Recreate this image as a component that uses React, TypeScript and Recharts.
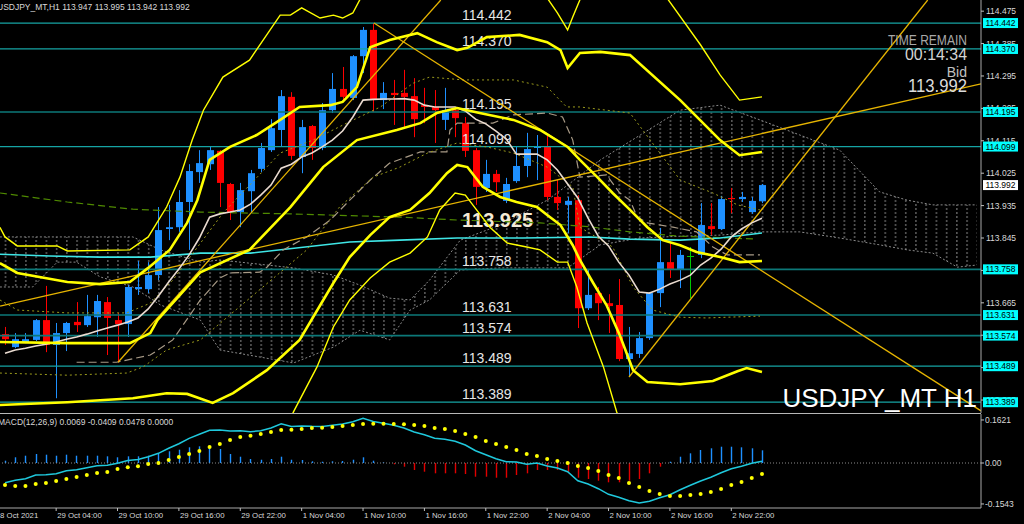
import React from 'react';
import { ComposedChart, Bar, Line, Area, XAxis, YAxis, ReferenceLine } from 'recharts';

// ---------- price candles (H1, bar 0 = 28 Oct 23:00) ----------
const opens = [113.578,113.542,113.556,113.562,113.617,113.548,113.581,113.612,113.603,113.625,113.667,113.617,113.606,113.703,113.703,113.742,113.870,113.875,113.945,114.028,114.050,114.087,113.995,113.917,113.975,114.037,114.089,114.145,114.237,114.070,114.156,114.095,114.200,114.259,114.234,114.350,114.423,114.228,114.248,114.248,114.239,114.214,114.209,114.173,114.200,114.164,114.089,113.984,114.023,113.948,114.003,114.045,114.095,114.098,113.959,113.937,113.950,113.650,113.692,113.664,113.659,113.509,113.523,113.567,113.692,113.778,113.759,113.795,113.798,113.878,113.870,113.956,113.953,113.917,113.947];
const highs = [113.598,113.581,113.581,113.620,113.712,113.609,113.612,113.667,113.687,113.687,113.681,113.637,113.714,113.781,113.778,113.931,113.937,113.978,114.050,114.089,114.098,114.089,113.998,113.998,114.034,114.109,114.175,114.256,114.250,114.173,114.159,114.220,114.303,114.320,114.353,114.431,114.442,114.278,114.284,114.312,114.289,114.262,114.256,114.262,114.206,114.181,114.095,114.062,114.034,114.012,114.098,114.137,114.131,114.131,114.006,113.959,113.964,113.756,113.709,113.689,113.731,113.598,113.584,113.695,113.873,113.834,113.812,113.820,113.942,113.942,113.962,113.984,113.973,113.959,113.995];
const lows = [113.548,113.539,113.553,113.559,113.528,113.400,113.531,113.584,113.598,113.570,113.520,113.500,113.570,113.687,113.692,113.728,113.839,113.862,113.812,113.998,114.034,113.931,113.895,113.875,113.914,114.028,114.084,114.098,114.062,114.025,114.062,114.089,114.192,114.228,114.228,114.303,114.195,114.203,114.159,114.153,114.125,114.164,114.109,114.145,114.125,114.070,113.937,113.973,113.973,113.942,113.998,114.014,114.006,113.950,113.923,113.859,113.595,113.645,113.617,113.581,113.503,113.459,113.512,113.562,113.653,113.734,113.706,113.678,113.789,113.853,113.867,113.914,113.945,113.912,113.942];
const closes = [113.564,113.564,113.564,113.617,113.548,113.581,113.609,113.603,113.628,113.670,113.623,113.606,113.709,113.709,113.742,113.867,113.875,113.945,114.031,114.053,114.089,113.998,113.917,113.978,114.025,114.095,114.150,114.239,114.073,114.153,114.095,114.200,114.259,114.237,114.350,114.423,114.231,114.248,114.242,114.237,114.175,114.209,114.200,114.200,114.178,114.087,113.987,114.023,114.000,113.995,114.045,114.092,114.100,113.959,113.942,113.948,113.650,113.687,113.664,113.656,113.509,113.525,113.567,113.692,113.778,113.759,113.798,113.795,113.881,113.870,113.953,113.953,113.959,113.948,113.992];

// short moving average (white)
const smaWhite = [113.525,113.534,113.539,113.545,113.550,113.556,113.564,113.570,113.578,113.587,113.595,113.603,113.612,113.623,113.648,113.684,113.723,113.759,113.798,113.845,113.903,113.912,113.917,113.923,113.939,113.964,113.992,114.039,114.050,114.070,114.081,114.098,114.117,114.142,114.181,114.228,114.230,114.231,114.231,114.232,114.228,114.214,114.209,114.209,114.209,114.198,114.175,114.162,114.142,114.120,114.078,114.078,114.078,114.062,114.034,113.995,113.956,113.900,113.850,113.823,113.778,113.742,113.695,113.692,113.703,113.717,113.728,113.742,113.770,113.789,113.814,113.848,113.870,113.887,113.900];

// band / indicator vertices: [barIndex, price]
const bandUpperOuter: [number, number][] = [[-0.5,113.875],[0,113.848],[1.2,113.823],[5.1,113.823],[6.1,113.809],[12.2,113.812],[14,113.848],[15.8,113.931],[17.1,114.014],[18.3,114.117],[19.4,114.2],[21.3,114.292],[23.9,114.339],[26.9,114.464],[27.9,114.464],[29,114.484],[30.8,114.456],[32.1,114.464],[33,114.456],[34,114.47],[35.2,114.534],[43.5,114.617],[52.8,114.52],[54,114.47],[55,114.423],[55.5,114.459],[56.4,114.52],[60,114.589],[64.5,114.52],[68,114.381],[69.9,114.298],[71.8,114.228],[74,114.237]];
const bandUpper: [number, number][] = [[-0.5,113.775],[1.2,113.748],[6.1,113.723],[9.3,113.717],[12.2,113.723],[14,113.762],[16.1,113.812],[17.8,113.887],[18.8,113.95],[20,114.062],[22,114.098],[24.6,114.131],[26.9,114.173],[28.8,114.209],[31.8,114.214],[33,114.223],[34.4,114.264],[35.7,114.375],[37.6,114.395],[40.3,114.414],[42.2,114.389],[44.2,114.367],[45.2,114.373],[47.1,114.403],[50.3,114.409],[53,114.389],[54.3,114.367],[55,114.317],[56.2,114.359],[58.2,114.362],[61.1,114.353],[66,114.228],[69.9,114.117],[71.8,114.075],[74,114.084]];
const bandMid: [number, number][] = [[-0.5,113.556],[6.1,113.553],[12.2,113.553],[14.2,113.581],[14.9,113.617],[19.1,113.75],[23.9,113.812],[27.9,113.931],[31.1,114.042],[34.4,114.117],[38.3,114.145],[40.6,114.164],[42.2,114.192],[44.2,114.206],[46.4,114.192],[49.7,114.173],[52.3,114.145],[55,114.098],[56.2,114.062],[57.9,114.014],[59.4,113.97],[61.1,113.923],[62.8,113.875],[64.3,113.839],[66,113.825],[67.6,113.806],[69.9,113.792],[71.8,113.778],[74,113.781]];
const bandLower: [number, number][] = [[-0.5,113.381],[6.1,113.389],[12.5,113.4],[15.8,113.414],[17.8,113.412],[20.3,113.387],[22.3,113.414],[25.6,113.478],[28.8,113.562],[32.1,113.72],[33.7,113.792],[35.7,113.853],[37.6,113.903],[39.6,113.923],[41.5,113.97],[43.2,114.025],[44.2,114.048],[45.2,114.042],[46.7,113.987],[48.4,113.959],[50,113.945],[52,113.931],[53,113.909],[54.3,113.881],[55.5,113.825],[56.2,113.784],[57.5,113.72],[58.8,113.659],[60.1,113.575],[61.4,113.478],[62.8,113.445],[66,113.439],[69.2,113.448],[71.6,113.475],[72.5,113.484],[74,113.473]];
const bandLowerOuter: [number, number][] = [[26.9,113.284],[28.2,113.362],[30.5,113.487],[32.1,113.598],[33.7,113.673],[35.7,113.734],[37.6,113.778],[39.6,113.803],[41.3,113.848],[42.5,113.923],[44,113.97],[45,113.964],[46.1,113.923],[47.4,113.875],[49.1,113.831],[51,113.82],[52.3,113.812],[54,113.778],[55,113.778],[55.9,113.709],[56.9,113.609],[58.5,113.487],[59.8,113.362],[61.1,113.256]];
const dotUpper: [number, number][] = [[-0.5,113.673],[1.2,113.645],[6.1,113.637],[11.9,113.637],[14.2,113.664],[16.4,113.728],[21.3,113.914],[26.9,114.081],[30.1,114.117],[33.4,114.164],[36.7,114.209],[39.9,114.275],[41.5,114.292],[44.8,114.284],[49.7,114.284],[53,114.264],[54.9,114.209],[56.2,114.209],[61.1,114.192],[66,114.006],[69.2,113.97],[71.6,113.937],[73.8,113.923]];
const dotLower: [number, number][] = [[-0.5,113.47],[6.1,113.464],[11.9,113.47],[13.5,113.487],[15.8,113.534],[19.1,113.562],[29.5,113.812],[32.7,113.931],[36,114.014],[38.6,114.042],[41.3,114.081],[44.2,114.109],[47.1,114.098],[49.7,114.081],[53,114.042],[55.5,113.987],[56.2,113.875],[59.4,113.82],[61.4,113.709],[63.3,113.645],[66,113.625],[68.6,113.623],[70.6,113.625],[73.8,113.628]];
const smaCyan: [number, number][] = [[-0.5,113.8],[4.4,113.795],[9.3,113.792],[14.2,113.792],[19.1,113.803],[24,113.803],[33.7,113.834],[38.6,113.839],[44.2,113.845],[50.6,113.845],[57.2,113.848],[61.1,113.842],[66,113.839],[69.9,113.845],[74,113.859]];
const smaGreen: [number, number][] = [[-0.5,113.97],[6.1,113.945],[12.5,113.925],[19.1,113.917],[27.9,113.912],[38.6,113.903],[44.2,113.895],[52.3,113.887],[57.2,113.876],[61.1,113.862],[66,113.85],[73.5,113.842]];
const kijun: [number, number][] = [[7,113.5],[10.9,113.5],[14.2,113.52],[16.4,113.562],[19.1,113.673],[21,113.734],[22,113.748],[24.9,113.75],[25.6,113.764],[27.2,113.812],[29.5,113.848],[31.8,113.895],[33.7,113.95],[35.7,114.006],[37.6,114.053],[40.6,114.084],[43.2,114.084],[43.5,114.145],[44.2,114.164],[47.7,114.164],[49.7,114.187],[53,114.192],[54.5,114.181],[55.5,114.117],[56.2,114.014],[58.8,114.02],[60.1,113.97],[61.1,113.95],[61.8,113.903],[62.8,113.887],[65.3,113.875],[67.6,113.862],[69.2,113.82],[70.6,113.798],[73.8,113.798]];

// ichimoku cloud: [barIndex, spanTop, spanBottom]
const cloud: [number, number, number][] = [[-0.5,113.848,113.709],[2.7,113.848,113.709],[5.1,113.848,113.778],[7,113.848,113.778],[9.3,113.848,113.737],[12.5,113.848,113.709],[15.2,113.812,113.659],[19.1,113.778,113.617],[21,113.784,113.534],[28.2,113.762,113.498],[32.1,113.742,113.542],[34.7,113.714,113.589],[37.6,113.678,113.562],[39.6,113.673,113.645],[41.5,113.728,113.673],[44.5,113.839,113.756],[48.4,113.881,113.762],[53,113.95,113.762],[55,113.992,113.762],[58.2,114.062,113.826],[62.1,114.131,113.845],[66,114.2,113.85],[69.9,114.214,113.853],[73.8,114.173,113.862],[77.7,114.131,113.862],[81.6,114.089,113.845],[85.5,113.973,113.826],[88.2,113.95,113.812],[90.7,113.937,113.803],[93.1,113.937,113.764],[95,113.937,113.77]];

// trend lines: [barIndex, price] pairs
const trendLines: [number, number][][] = [
  [[36.07,114.442],[95.41,113.365]],
  [[61,113.459],[90.2,114.506]],
  [[11.05,113.5],[42.6,114.506]],
  [[-0.48,113.656],[95.41,114.273]],
];

// horizontal levels
const levels = [114.442, 114.370, 114.195, 114.099, 113.758, 113.631, 113.574, 113.489, 113.389];
const darkLevels = [114.195, 113.758, 113.631, 113.574];
const priceTicks = [114.475, 114.385, 114.295, 114.205, 114.115, 114.025, 113.935, 113.845, 113.755, 113.665, 113.575, 113.485, 113.395];
const bidPrice = 113.992;
const markedLevel = 113.925;

// ---------- MACD(12,26,9) ----------
const macdHist = [0.0087,0.0215,0.0275,0.0339,0.0313,0.0275,0.0313,0.0275,0.0275,0.0275,0.0252,0.0215,0.0252,0.0252,0.0275,0.0365,0.0441,0.0501,0.0591,0.0629,0.0629,0.0527,0.0339,0.0237,0.0151,0.0124,0.0151,0.0237,0.0124,0.0113,0.0064,0.0049,0.0064,0.0075,0.0124,0.0215,0.0087,0.0026,-0.0049,-0.0139,-0.0264,-0.0328,-0.0388,-0.0388,-0.0388,-0.0414,-0.0516,-0.0516,-0.0554,-0.0554,-0.0452,-0.0388,-0.0264,-0.0264,-0.0264,-0.0328,-0.0554,-0.0603,-0.0667,-0.0727,-0.0727,-0.0667,-0.0603,-0.0388,-0.0139,0.0049,0.0237,0.0365,0.0490,0.0554,0.0614,0.0614,0.0591,0.0554,0.0478];
const macdSignal = [-0.0829,-0.0866,-0.0866,-0.0791,-0.0753,-0.0678,-0.0603,-0.0527,-0.0452,-0.0377,-0.0339,-0.0226,-0.0160,-0.0120,-0.0038,0.0000,0.0113,0.0226,0.0339,0.0452,0.0603,0.0716,0.0866,0.0979,0.1030,0.1092,0.1168,0.1243,0.1255,0.1281,0.1318,0.1330,0.1356,0.1394,0.1431,0.1469,0.1475,0.1475,0.1469,0.1460,0.1431,0.1394,0.1318,0.1281,0.1205,0.1092,0.0979,0.0829,0.0716,0.0603,0.0490,0.0339,0.0264,0.0151,0.0075,0.0000,-0.0113,-0.0188,-0.0301,-0.0452,-0.0565,-0.0753,-0.0904,-0.1055,-0.1168,-0.1243,-0.1243,-0.1205,-0.1168,-0.1092,-0.0979,-0.0829,-0.0716,-0.0565,-0.0414];
const macdMain = [-0.0742,-0.0651,-0.0591,-0.0452,-0.0440,-0.0403,-0.0290,-0.0252,-0.0177,-0.0102,-0.0087,-0.0011,0.0092,0.0132,0.0237,0.0365,0.0554,0.0727,0.0930,0.1081,0.1232,0.1243,0.1205,0.1216,0.1181,0.1216,0.1319,0.1480,0.1379,0.1394,0.1382,0.1379,0.1420,0.1469,0.1555,0.1684,0.1562,0.1501,0.1420,0.1321,0.1167,0.1066,0.0930,0.0893,0.0817,0.0678,0.0463,0.0313,0.0162,0.0049,0.0038,-0.0049,0.0000,-0.0113,-0.0189,-0.0328,-0.0667,-0.0791,-0.0968,-0.1179,-0.1292,-0.1420,-0.1507,-0.1443,-0.1307,-0.1194,-0.1006,-0.0840,-0.0678,-0.0538,-0.0365,-0.0215,-0.0125,-0.0011,0.0069];
const macdTicks = [0.1621, 0, -0.1543];

// time axis
const timeTickBars = [-1, 5, 11, 17, 23, 29, 35, 41, 47, 53, 59, 65, 71];
const timeTickLabels = ['28 Oct 2021', '29 Oct 04:00', '29 Oct 10:00', '29 Oct 16:00', '29 Oct 22:00', '1 Nov 04:00', '1 Nov 10:00', '1 Nov 16:00', '1 Nov 22:00', '2 Nov 04:00', '2 Nov 10:00', '2 Nov 16:00', '2 Nov 22:00'];

// ---------- derived tables ----------
const candles = opens.map((o, i) => ({ i, o, h: highs[i], l: lows[i], c: closes[i] }));
const macdRows = macdHist.map((h, i) => ({ i, hist: h, sig: macdSignal[i], main: macdMain[i] }));
const toPts = (arr: [number, number][]) => arr.map(([i, v]) => ({ i, v }));
const cloudRows = cloud.map(([i, t, b]) => ({ i, t, b }));

const X_DOMAIN: [number, number] = [-0.489, 95.41];
const FONT = 'Liberation Sans, Arial, sans-serif';

const Candle = (props: any) => {
  const { x, y, width, height, payload } = props;
  if (!payload) return null;
  const { o, h, l, c } = payload;
  const top = Math.min(y, y + height);
  const hh = Math.abs(height);
  const per = h - l > 0 ? hh / (h - l) : 0;
  const yO = top + (h - o) * per;
  const yC = top + (h - c) * per;
  const color = c > o ? '#1e90ff' : c < o ? '#ff0000' : '#00c800';
  const cx = Math.round(x + width / 2) + 0.5;
  const bTop = Math.min(yO, yC);
  const bH = Math.max(1, Math.abs(yC - yO));
  return (
    <g>
      <line x1={cx} x2={cx} y1={top} y2={top + hh} stroke={color} strokeWidth={1} />
      <rect x={cx - 3.5} y={bTop} width={7} height={bH} fill={color} />
    </g>
  );
};

const HistBar = (props: any) => {
  const { x, y, width, height, payload } = props;
  if (!payload) return null;
  const cx = Math.round(x + width / 2) + 0.5;
  const color = payload.hist >= 0 ? '#1e90ff' : '#e00000';
  return <line x1={cx} x2={cx} y1={y} y2={y + height} stroke={color} strokeWidth={1.4} />;
};

const PriceTick = (props: any) => {
  const { x, y, payload } = props;
  const v: number = payload.value;
  const label = v.toFixed(3);
  if (levels.includes(v)) {
    return (
      <g>
        <rect x={x + 2} y={y - 5} width={35} height={10} fill="#00ffff" />
        <text x={x + 19.5} y={y + 3} textAnchor="middle" fontSize={8.5} fontFamily={FONT} fill="#000">{label}</text>
      </g>
    );
  }
  if (v === bidPrice) {
    return (
      <g>
        <rect x={x + 2} y={y - 5} width={35} height={10} fill="#ffffff" />
        <text x={x + 19.5} y={y + 3} textAnchor="middle" fontSize={8.5} fontFamily={FONT} fill="#000">{label}</text>
      </g>
    );
  }
  return (
    <g>
      <line x1={x} x2={x + 3} y1={y} y2={y} stroke="#c0c0c0" />
      <text x={x + 5} y={y + 3} fontSize={8.5} fontFamily={FONT} fill="#d8d8d8">{label}</text>
    </g>
  );
};

const MacdTick = (props: any) => {
  const { x, y, payload } = props;
  const v: number = payload.value;
  const label = v === 0 ? '0.00' : v.toFixed(4);
  return (
    <g>
      <line x1={x} x2={x + 3} y1={y} y2={y} stroke="#c0c0c0" />
      <text x={x + 4} y={y + 3} fontSize={8.5} fontFamily={FONT} fill="#d8d8d8">{label}</text>
    </g>
  );
};

const TimeTick = (props: any) => {
  const { x, y, payload, index } = props;
  const k = timeTickBars.indexOf(payload.value);
  const label = timeTickLabels[k >= 0 ? k : index] || '';
  return (
    <g>
      <line x1={x} x2={x} y1={y} y2={y + 3} stroke="#c0c0c0" />
      <text x={x + 1} y={y + 10} fontSize={7.8} fontFamily={FONT} fill="#d8d8d8">{label}</text>
    </g>
  );
};

const yellow = '#ffff00';
const trendColor = '#e6b400';

export default function App() {
  return (
    <div style={{ position: 'absolute', left: 0, top: 0, width: 1024, height: 524, background: '#000', overflow: 'hidden', fontFamily: FONT }}>
      <div style={{ position: 'absolute', left: 0, top: 0 }}>
        <ComposedChart width={1024} height={413} data={candles} margin={{ top: 0, right: 0, bottom: 0, left: 0 }}>
          <defs>
            <pattern id="hatch" patternUnits="userSpaceOnUse" x={0} y={0} width={10.23} height={4}>
              <line x1={5.5} x2={5.5} y1={0} y2={2} stroke="#8c8c8c" strokeWidth={1} />
            </pattern>
          </defs>
          <XAxis dataKey="i" type="number" domain={X_DOMAIN} allowDataOverflow hide />
          <YAxis
            orientation="right"
            width={43}
            type="number"
            domain={[113.359, 114.506]}
            allowDataOverflow
            ticks={[...priceTicks, bidPrice, ...levels]}
            interval={0}
            tick={<PriceTick />}
            tickLine={false}
            tickSize={0}
            tickMargin={0}
            axisLine={{ stroke: '#a8a8a8' }}
          />
          <Area data={cloudRows} dataKey={(d: any) => [d.b, d.t]} type="linear" stroke="#8a8a8a" strokeDasharray="2 2" strokeWidth={1} fill="url(#hatch)" fillOpacity={1} isAnimationActive={false} dot={false} activeDot={false} />
          {levels.map((lv) => (
            <ReferenceLine
              key={lv}
              y={lv}
              stroke={darkLevels.includes(lv) ? '#0c7878' : '#16a4a4'}
              strokeWidth={darkLevels.includes(lv) ? 1.6 : 1.2}
              label={(p: any) => (
                <text x={462} y={p.viewBox.y - 3} fontSize={14} fontFamily={FONT} fill="#e6e6e6">{lv.toFixed(3)}</text>
              )}
            />
          ))}
          <ReferenceLine
            y={markedLevel}
            stroke="none"
            strokeOpacity={0}
            label={(p: any) => (
              <text x={462} y={p.viewBox.y + 18} fontSize={20} fontWeight="bold" fontFamily={FONT} fill="#f4ead6">{markedLevel.toFixed(3)}</text>
            )}
          />
          <Line data={toPts(smaGreen)} dataKey="v" stroke="#4f8a00" strokeWidth={1.2} strokeDasharray="7 4" dot={false} activeDot={false} isAnimationActive={false} />
          <Line data={toPts(smaCyan)} dataKey="v" stroke="#3fe6e6" strokeWidth={1.6} dot={false} activeDot={false} isAnimationActive={false} />
          <Line data={toPts(kijun)} dataKey="v" stroke="#a89a86" strokeWidth={1.2} strokeDasharray="8 4" dot={false} activeDot={false} isAnimationActive={false} />
          <Line data={toPts(dotUpper)} dataKey="v" stroke="#9c9c1c" strokeWidth={1} strokeDasharray="2 3" dot={false} activeDot={false} isAnimationActive={false} />
          <Line data={toPts(dotLower)} dataKey="v" stroke="#9c9c1c" strokeWidth={1} strokeDasharray="2 3" dot={false} activeDot={false} isAnimationActive={false} />
          {trendLines.map((t, k) => (
            <Line key={'t' + k} data={toPts(t)} dataKey="v" stroke={trendColor} strokeWidth={1.3} dot={false} activeDot={false} isAnimationActive={false} />
          ))}
          <Bar dataKey={(d: any) => [d.l, d.h]} barSize={7} shape={<Candle />} isAnimationActive={false} />
          <Line data={candles.map((c) => ({ i: c.i, v: smaWhite[c.i] }))} dataKey="v" stroke="#eadbd0" strokeWidth={1.6} dot={false} activeDot={false} isAnimationActive={false} />
          <Line data={toPts(bandUpperOuter)} dataKey="v" stroke={yellow} strokeWidth={1.4} dot={false} activeDot={false} isAnimationActive={false} />
          <Line data={toPts(bandLowerOuter)} dataKey="v" stroke={yellow} strokeWidth={1.4} dot={false} activeDot={false} isAnimationActive={false} />
          <Line data={toPts(bandUpper)} dataKey="v" stroke={yellow} strokeWidth={2.6} dot={false} activeDot={false} isAnimationActive={false} />
          <Line data={toPts(bandMid)} dataKey="v" stroke={yellow} strokeWidth={2.6} dot={false} activeDot={false} isAnimationActive={false} />
          <Line data={toPts(bandLower)} dataKey="v" stroke={yellow} strokeWidth={2.6} dot={false} activeDot={false} isAnimationActive={false} />
        </ComposedChart>
      </div>
      <div style={{ position: 'absolute', left: 0, top: 414 }}>
        <ComposedChart width={1024} height={110} data={macdRows} margin={{ top: 0, right: 0, bottom: 0, left: 0 }}>
          <XAxis
            dataKey="i"
            type="number"
            domain={X_DOMAIN}
            allowDataOverflow
            ticks={timeTickBars}
            interval={0}
            tick={<TimeTick />}
            tickLine={false}
            tickSize={0}
            tickMargin={0}
            height={16}
            axisLine={{ stroke: '#a8a8a8' }}
          />
          <YAxis
            orientation="right"
            width={43}
            type="number"
            domain={[-0.1695, 0.1846]}
            allowDataOverflow
            ticks={macdTicks}
            interval={0}
            tick={<MacdTick />}
            tickLine={false}
            tickSize={0}
            tickMargin={0}
            axisLine={{ stroke: '#a8a8a8' }}
          />
          <ReferenceLine y={0} stroke="#8a8a8a" strokeDasharray="1 2" />
          <Bar dataKey="hist" barSize={2} shape={<HistBar />} isAnimationActive={false} />
          <Line dataKey="main" stroke="#1fc8dc" strokeWidth={1.5} dot={false} activeDot={false} isAnimationActive={false} />
          <Line dataKey="sig" stroke="none" dot={{ r: 2, fill: '#ffff00', stroke: 'none' }} activeDot={false} isAnimationActive={false} />
        </ComposedChart>
      </div>
      <svg width={1024} height={524} style={{ position: 'absolute', left: 0, top: 0, pointerEvents: 'none' }}>
        <line x1={0} x2={981} y1={413.5} y2={413.5} stroke="#b8b8b8" strokeWidth={1} />
        <text x={-3} y={10} fontSize={8.5} fontFamily={FONT} fill="#d8d8d8">USDJPY_MT,H1  113.947 113.995 113.942 113.992</text>
        <text x={-2} y={425} fontSize={8.5} fontFamily={FONT} fill="#d8d8d8">MACD(12,26,9) 0.0069 -0.0409 0.0478 0.0000</text>
        <text x={967} y={45} textAnchor="end" fontSize={14} fontFamily={FONT} fill="#a8a8a8" textLength={79} lengthAdjust="spacingAndGlyphs">TIME REMAIN</text>
        <text x={967} y={60} textAnchor="end" fontSize={16} fontFamily={FONT} fill="#d4d4d4" textLength={62} lengthAdjust="spacingAndGlyphs">00:14:34</text>
        <text x={967} y={77} textAnchor="end" fontSize={14} fontFamily={FONT} fill="#c0c0c0">Bid</text>
        <text x={967} y={92} textAnchor="end" fontSize={18} fontFamily={FONT} fill="#dcdcdc" textLength={59} lengthAdjust="spacingAndGlyphs">113.992</text>
        <text x={977} y={407} textAnchor="end" fontSize={26} fontFamily={FONT} fill="#ffffff">USDJPY_MT H1</text>
      </svg>
    </div>
  );
}
